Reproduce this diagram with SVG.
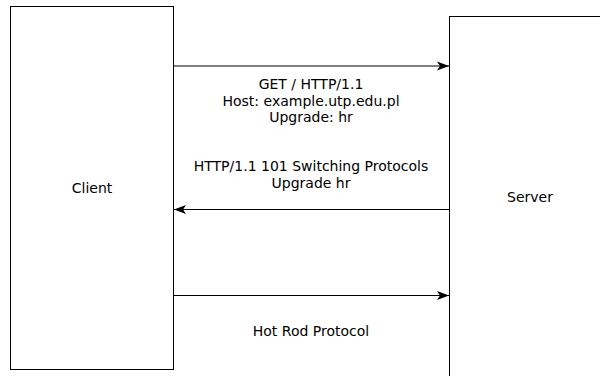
<svg xmlns="http://www.w3.org/2000/svg" width="600" height="376" viewBox="0 0 600 376">
  <style>
    .box { fill: #ffffff; stroke: #000000; stroke-width: 1; }
    .lbl { font-family: "DejaVu Sans", sans-serif; font-size: 14px; fill: #000000; text-anchor: middle; }
    .conn { stroke: #000000; stroke-width: 1; fill: none; marker-end: url(#arrow); }
  </style>
  <defs>
    <marker id="arrow" viewBox="0 0 12 10" refX="12" refY="5" markerWidth="12" markerHeight="10" markerUnits="userSpaceOnUse" orient="auto">
      <path d="M0,0.5 L12,5 L0,9.5 L3,5 Z" fill="#000000"/>
    </marker>
  </defs>
  <rect width="600" height="376" fill="#ffffff"/>
  <g id="client">
    <rect class="box" x="10.5" y="6.5" width="163" height="363"/>
    <text class="lbl" x="92" y="193">Client</text>
  </g>
  <g id="server">
    <rect class="box" x="449.5" y="16.5" width="200" height="400"/>
    <text class="lbl" x="530" y="202">Server</text>
  </g>
  <g id="connectors">
    <line class="conn" x1="174" y1="66" x2="449" y2="66"/>
    <line class="conn" x1="449" y1="209.5" x2="174" y2="209.5"/>
    <line class="conn" x1="174" y1="295.5" x2="449" y2="295.5"/>
    <text class="lbl" x="311" y="89">GET / HTTP/1.1</text>
    <text class="lbl" x="311" y="106">Host: example.utp.edu.pl</text>
    <text class="lbl" x="311" y="122">Upgrade: hr</text>
    <text class="lbl" x="311" y="171">HTTP/1.1 101 Switching Protocols</text>
    <text class="lbl" x="311" y="188">Upgrade hr</text>
    <text class="lbl" x="311" y="336">Hot Rod Protocol</text>
  </g>
</svg>
